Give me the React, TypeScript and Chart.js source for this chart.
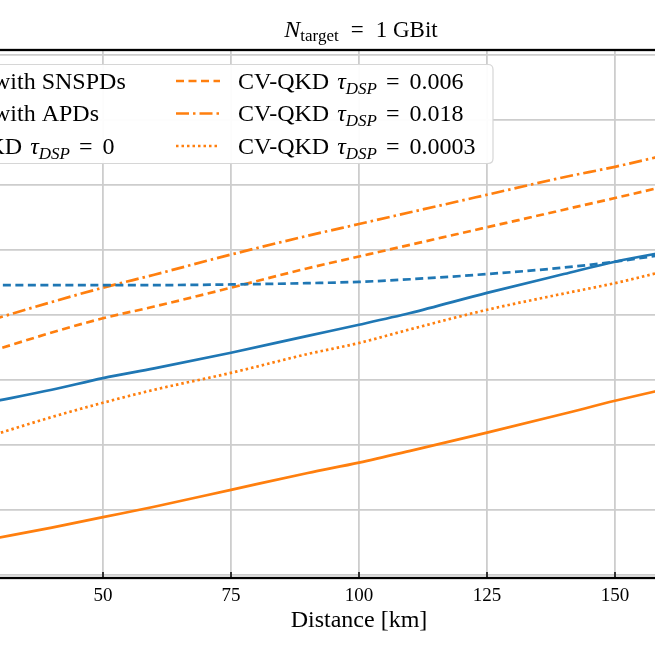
import React, { useEffect, useRef } from "react";
import { Chart, registerables } from "chart.js";

Chart.register(...registerables);

// ---- data ----
const distances = [28, 40, 50, 60, 75, 90, 100, 110, 125, 140, 150, 162];
const bb84Snspd = [2.66, 2.85, 3.03, 3.18, 3.42, 3.68, 3.85, 4.03, 4.34, 4.63, 4.82, 5.0];
const bb84Apd = [4.46, 4.46, 4.46, 4.46, 4.47, 4.49, 4.51, 4.55, 4.63, 4.73, 4.82, 4.96];
const cvTau0 = [0.55, 0.73, 0.89, 1.05, 1.31, 1.57, 1.73, 1.91, 2.19, 2.48, 2.68, 2.9];
const cvTau0006 = [3.44, 3.73, 3.95, 4.13, 4.42, 4.72, 4.9, 5.08, 5.35, 5.62, 5.8, 6.02];
const cvTau0018 = [3.92, 4.2, 4.42, 4.62, 4.93, 5.22, 5.4, 5.58, 5.85, 6.12, 6.28, 6.5];
const cvTau00003 = [2.14, 2.43, 2.65, 2.85, 3.11, 3.4, 3.57, 3.78, 4.08, 4.33, 4.49, 4.72];

const xTickValues = [25, 50, 75, 100, 125, 150, 175];
const yGridValues = [0, 1, 2, 3, 4, 5, 6, 7, 8];

const titleMain = "N";
const titleSub = "target";
const titleRest = "1 GBit";
const xAxisTitle = "Distance [km]";

const BLUE = "#1f77b4";
const ORANGE = "#ff7f0e";
const FONT = "'Liberation Serif', 'Times New Roman', serif";
const GRID = "#cdcdcd";

type Series = {
  label: string;
  prefix: string;
  value?: string;
  data: number[];
  color: string;
  dash: number[];
};

const series: Series[] = [
  { label: "BB84 with SNSPDs", prefix: "BB84 with SNSPDs", data: bb84Snspd, color: BLUE, dash: [] },
  { label: "BB84 with APDs", prefix: "BB84 with APDs", data: bb84Apd, color: BLUE, dash: [8, 4.5] },
  { label: "CV-QKD τDSP = 0", prefix: "CV-QKD", value: "0", data: cvTau0, color: ORANGE, dash: [] },
  { label: "CV-QKD τDSP = 0.006", prefix: "CV-QKD", value: "0.006", data: cvTau0006, color: ORANGE, dash: [8, 4.5] },
  { label: "CV-QKD τDSP = 0.018", prefix: "CV-QKD", value: "0.018", data: cvTau0018, color: ORANGE, dash: [13, 4, 2.5, 4] },
  { label: "CV-QKD τDSP = 0.0003", prefix: "CV-QKD", value: "0.0003", data: cvTau00003, color: ORANGE, dash: [2.5, 3] },
];

const CANVAS_W = 860;
const CANVAS_H = 655;
const OFFSET_X = -70;

function drawLegendLabel(ctx: CanvasRenderingContext2D, s: Series, x: number, baseline: number) {
  ctx.fillStyle = "#000";
  ctx.textBaseline = "alphabetic";
  ctx.textAlign = "left";
  ctx.font = `24px ${FONT}`;
  ctx.fillText(s.prefix, x, baseline);
  if (s.value === undefined) return;
  x += ctx.measureText(s.prefix).width + 8;
  ctx.font = `italic 24px ${FONT}`;
  ctx.fillText("τ", x, baseline);
  x += ctx.measureText("τ").width;
  ctx.font = `italic 17px ${FONT}`;
  ctx.fillText("DSP", x, baseline + 5);
  x += ctx.measureText("DSP").width + 9;
  ctx.font = `24px ${FONT}`;
  ctx.fillText("=", x, baseline);
  x += ctx.measureText("=").width + 10;
  ctx.fillText(s.value, x, baseline);
}

const framePlugin = {
  id: "frame",
  afterDatasetsDraw(chart: any) {
    const ctx: CanvasRenderingContext2D = chart.ctx;
    ctx.save();
    // legend box
    const bx = -10, by = 64.5, bw = 563 + 10, bh = 99, r = 5;
    ctx.beginPath();
    ctx.moveTo(bx + r, by);
    ctx.lineTo(bx + bw - r, by);
    ctx.quadraticCurveTo(bx + bw, by, bx + bw, by + r);
    ctx.lineTo(bx + bw, by + bh - r);
    ctx.quadraticCurveTo(bx + bw, by + bh, bx + bw - r, by + bh);
    ctx.lineTo(bx + r, by + bh);
    ctx.quadraticCurveTo(bx, by + bh, bx, by + bh - r);
    ctx.lineTo(bx, by + r);
    ctx.quadraticCurveTo(bx, by, bx + r, by);
    ctx.closePath();
    ctx.fillStyle = "rgba(255,255,255,0.95)";
    ctx.fill();
    ctx.strokeStyle = "#d6d6d6";
    ctx.lineWidth = 1.2;
    ctx.stroke();

    const rowCenters = [81, 113.5, 146];
    const cols = [
      { handleX: 1 - 18 - 44, textX: 1 },
      { handleX: 246, textX: 308 },
    ];
    series.forEach((s, i) => {
      const col = cols[Math.floor(i / 3)];
      const cy = rowCenters[i % 3];
      ctx.beginPath();
      ctx.setLineDash(s.dash);
      ctx.lineCap = "butt";
      ctx.strokeStyle = s.color;
      ctx.lineWidth = 2.5;
      ctx.moveTo(col.handleX, cy);
      ctx.lineTo(col.handleX + 44, cy);
      ctx.stroke();
      ctx.setLineDash([]);
      drawLegendLabel(ctx, s, col.textX, cy + 7.5);
    });
    ctx.restore();
  },
  afterDraw(chart: any) {
    const ctx: CanvasRenderingContext2D = chart.ctx;
    const { left, right, top, bottom } = chart.chartArea;
    ctx.save();
    // inward ticks on bottom spine
    const xs = chart.scales.x;
    ctx.strokeStyle = "#000";
    ctx.lineWidth = 1.5;
    xTickValues.forEach((v) => {
      const px = xs.getPixelForValue(v);
      ctx.beginPath();
      ctx.moveTo(px, bottom);
      ctx.lineTo(px, bottom - 6);
      ctx.stroke();
    });
    // spines
    ctx.lineWidth = 2.3;
    ctx.strokeRect(left, top, right - left, bottom - top);

    // title: N_target = 1 GBit
    const parts: { t: string; font: string; dy: number; gap: number }[] = [
      { t: titleMain, font: `italic 24px ${FONT}`, dy: 0, gap: 0 },
      { t: titleSub, font: `17px ${FONT}`, dy: 4, gap: 12 },
      { t: "=", font: `23px ${FONT}`, dy: 0, gap: 12 },
      { t: titleRest, font: `23px ${FONT}`, dy: 0, gap: 0 },
    ];
    let total = 0;
    parts.forEach((p) => {
      ctx.font = p.font;
      total += ctx.measureText(p.t).width + p.gap;
    });
    let x = 431 - total / 2;
    ctx.fillStyle = "#000";
    ctx.textBaseline = "alphabetic";
    ctx.textAlign = "left";
    parts.forEach((p) => {
      ctx.font = p.font;
      ctx.fillText(p.t, x, 37 + p.dy);
      x += ctx.measureText(p.t).width + p.gap;
    });
    ctx.restore();
  },
};

export default function App() {
  const ref = useRef<HTMLCanvasElement>(null);
  useEffect(() => {
    const canvas = ref.current;
    if (!canvas) return;
    const chart = new Chart(canvas, {
      type: "line",
      data: {
        datasets: series.map((s) => ({
          label: s.label,
          data: distances.map((d, i) => ({ x: d, y: s.data[i] })),
          borderColor: s.color,
          backgroundColor: s.color,
          borderWidth: 2.7,
          borderDash: s.dash,
          pointRadius: 0,
          cubicInterpolationMode: "monotone" as const,
          fill: false,
        })),
      },
      options: {
        responsive: false,
        animation: false,
        devicePixelRatio: 1,
        layout: { padding: { left: 19.4, right: 21.4, top: 50, bottom: 0 } },
        plugins: {
          legend: { display: false },
          title: { display: false },
          tooltip: { enabled: false },
        },
        scales: {
          x: {
            type: "linear",
            min: 20,
            max: 180,
            afterBuildTicks: (s: any) => {
              s.ticks = xTickValues.map((v) => ({ value: v }));
            },
            afterFit: (s: any) => {
              s.height = 77;
            },
            grid: { color: GRID, lineWidth: 1.8, drawTicks: false },
            border: { display: false },
            ticks: {
              color: "#000",
              font: { family: FONT, size: 19 },
              padding: 7,
              maxRotation: 0,
              autoSkip: false,
            },
            title: {
              display: true,
              text: xAxisTitle,
              color: "#000",
              font: { family: FONT, size: 24 },
              padding: { top: 0, bottom: 20 },
            },
          },
          y: {
            type: "linear",
            min: -0.046,
            max: 8.077,
            afterBuildTicks: (s: any) => {
              s.ticks = yGridValues.map((v) => ({ value: v }));
            },
            afterFit: (s: any) => {
              s.width = 0;
            },
            grid: { color: GRID, lineWidth: 1.8, drawTicks: false },
            border: { display: false },
            ticks: { display: false },
          },
        },
      },
      plugins: [framePlugin],
    });
    return () => chart.destroy();
  }, []);

  return (
    <div
      style={{
        position: "fixed",
        left: 0,
        top: 0,
        width: 655,
        height: 655,
        overflow: "hidden",
        background: "#fff",
      }}
    >
      <canvas
        ref={ref}
        width={CANVAS_W}
        height={CANVAS_H}
        style={{ position: "absolute", left: OFFSET_X, top: 0, width: CANVAS_W, height: CANVAS_H }}
      />
    </div>
  );
}
